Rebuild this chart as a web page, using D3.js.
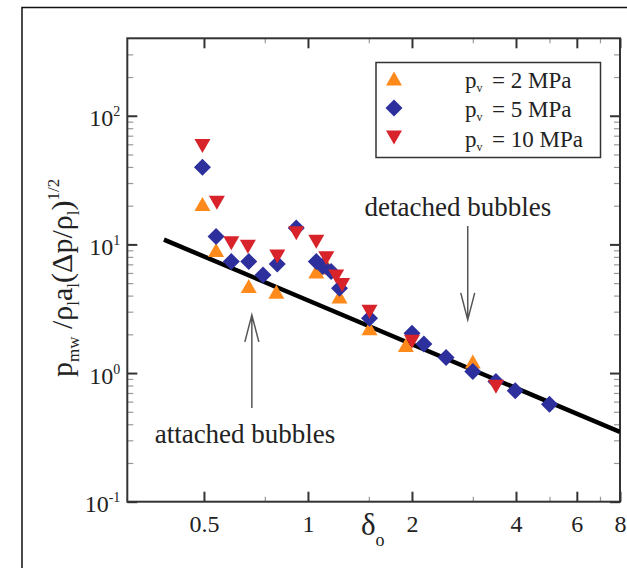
<!DOCTYPE html>
<html>
<head>
<meta charset="utf-8">
<script src="https://cdn.jsdelivr.net/npm/d3@7"></script>
<style>
  body { margin: 0; background: #fff; }
  svg { display: block; font-family: "Liberation Serif", "Times New Roman", serif; }
</style>
</head>
<body>
<script>
const width = 627;
const height = 568;

// series
const delta2 = [0.495, 0.542, 0.674, 0.81, 1.057, 1.14, 1.234, 1.507, 1.92, 3.0];
const value2 = [20.6, 9.06, 4.75, 4.29, 6.15, 6.6, 3.93, 2.23, 1.65, 1.23];

const delta5 = [0.495, 0.542, 0.600, 0.674, 0.741, 0.815, 0.925, 1.057, 1.104, 1.167,
  1.234, 1.507, 2.0, 2.165, 2.51, 3.0, 3.5, 3.98, 5.0];
const value5 = [39.8, 11.5, 7.35, 7.35, 5.79, 7.05, 13.4, 7.35, 6.72, 6.15,
  4.57, 2.67, 2.04, 1.68, 1.32, 1.03, 0.858, 0.730, 0.573];

const delta10 = [0.495, 0.545, 0.600, 0.670, 0.815, 0.925, 1.057, 1.13, 1.207, 1.256, 1.507, 2.0, 3.5];
const value10 = [58.3, 21.1, 10.2, 9.61, 8.04, 12.2, 10.5, 7.81, 5.62, 4.84, 3.0, 1.75, 0.784];

// fitted power-law line (end points)
const fitDelta = [0.383, 8];
const fitValue = [10.9, 0.348];

const seriesNames = ["2 MPa", "5 MPa", "10 MPa"];

// ticks
const xMajor = [0.5, 1, 2, 4, 6, 8];
const xMajorLabels = ["0.5", "1", "2", "4", "6", "8"];
const xMinor = [0.75, 1.5, 3, 5, 7];
const yMajor = [0.1, 1, 10, 100];
const yMajorExp = ["-1", "0", "1", "2"];
const yMinor = [0.2, 0.3, 0.4, 0.5, 0.6, 0.7, 0.8, 0.9,
  2, 3, 4, 5, 6, 7, 8, 9,
  20, 30, 40, 50, 60, 70, 80, 90,
  200, 300];

const svg = d3.select("body")
  .append("svg")
  .attr("width", width)
  .attr("height", height);

// outer figure border (only top/left visible)
svg.append("rect")
  .attr("x", 22).attr("y", 7.5)
  .attr("width", 700).attr("height", 700)
  .attr("fill", "none")
  .attr("stroke", "#111")
  .attr("stroke-width", 1.5);

const plotLeft = 127.3, plotRight = 620, plotTop = 38.3, plotBottom = 501.7;

const x = d3.scaleLog().domain([0.3, 8]).range([plotLeft, plotRight]);
const y = d3.scaleLog().domain([0.1, 400]).range([plotBottom, plotTop]);

const colors = { o: "#ff8a1c", b: "#2c2f9c", r: "#d8232b" };

// axes: ticks point inward on all four sides
function styleAxis(g, major) {
  g.select(".domain").remove();
  g.selectAll(".tick line")
    .attr("stroke", major ? "#333" : "#999")
    .attr("stroke-width", major ? 2 : 1.2);
}

svg.append("g")
  .attr("transform", `translate(0,${plotBottom})`)
  .call(d3.axisBottom(x).tickValues(xMajor)
    .tickFormat((d, i) => xMajorLabels[i])
    .tickSizeInner(-10).tickSizeOuter(0).tickPadding(13))
  .call(g => styleAxis(g, true))
  .call(g => g.selectAll("text")
    .attr("font-size", 24)
    .attr("font-family", "Liberation Serif, Times New Roman, serif")
    .attr("fill", "#222"));

svg.append("g")
  .attr("transform", `translate(0,${plotBottom})`)
  .call(d3.axisBottom(x).tickValues(xMinor).tickFormat("").tickSizeInner(-5).tickSizeOuter(0))
  .call(g => styleAxis(g, false));

svg.append("g")
  .attr("transform", `translate(0,${plotTop})`)
  .call(d3.axisTop(x).tickValues(xMajor).tickFormat("").tickSizeInner(-10).tickSizeOuter(0))
  .call(g => styleAxis(g, true));

svg.append("g")
  .attr("transform", `translate(0,${plotTop})`)
  .call(d3.axisTop(x).tickValues(xMinor).tickFormat("").tickSizeInner(-5).tickSizeOuter(0))
  .call(g => styleAxis(g, false));

svg.append("g")
  .attr("transform", `translate(${plotLeft},0)`)
  .call(d3.axisLeft(y).tickValues(yMajor).tickFormat("").tickSizeInner(-10).tickSizeOuter(0))
  .call(g => styleAxis(g, true));

svg.append("g")
  .attr("transform", `translate(${plotLeft},0)`)
  .call(d3.axisLeft(y).tickValues(yMinor).tickFormat("").tickSizeInner(-6).tickSizeOuter(0))
  .call(g => styleAxis(g, false));

svg.append("g")
  .attr("transform", `translate(${plotRight},0)`)
  .call(d3.axisRight(y).tickValues(yMajor).tickFormat("").tickSizeInner(-10).tickSizeOuter(0))
  .call(g => styleAxis(g, true));

svg.append("g")
  .attr("transform", `translate(${plotRight},0)`)
  .call(d3.axisRight(y).tickValues(yMinor).tickFormat("").tickSizeInner(-6).tickSizeOuter(0))
  .call(g => styleAxis(g, false));

// y tick labels 10^n
const yLabels = svg.append("g")
  .attr("font-size", 24)
  .attr("fill", "#222")
  .attr("text-anchor", "end");

yMajor.forEach((v, i) => {
  const t = yLabels.append("text")
    .attr("x", plotLeft - 7)
    .attr("y", y(v) + 10.5);
  t.append("tspan").text("10");
  t.append("tspan")
    .attr("font-size", 14)
    .attr("dy", -10)
    .text(yMajorExp[i]);
});

// plot frame
svg.append("rect")
  .attr("x", plotLeft).attr("y", plotTop)
  .attr("width", plotRight - plotLeft).attr("height", plotBottom - plotTop)
  .attr("fill", "none")
  .attr("stroke", "#333")
  .attr("stroke-width", 2);

// clip for the fit line
svg.append("clipPath").attr("id", "plot-clip")
  .append("rect")
  .attr("x", plotLeft).attr("y", plotTop)
  .attr("width", plotRight - plotLeft).attr("height", plotBottom - plotTop);

const line = d3.line()
  .x(d => x(d[0]))
  .y(d => y(d[1]));

svg.append("path")
  .datum(fitDelta.map((d, i) => [d, fitValue[i]]))
  .attr("clip-path", "url(#plot-clip)")
  .attr("d", line)
  .attr("fill", "none")
  .attr("stroke", "#000")
  .attr("stroke-width", 4.5);

// markers
const shapes = {
  up: "M0,-7L8,7L-8,7Z",
  diamond: "M0,-8.5L8.5,0L0,8.5L-8.5,0Z",
  down: "M0,7L8,-7L-8,-7Z"
};

function drawSeries(xs, ys, shape, color) {
  svg.append("g")
    .selectAll("path")
    .data(xs.map((d, i) => [d, ys[i]]))
    .enter()
    .append("path")
    .attr("d", shapes[shape])
    .attr("transform", d => `translate(${x(d[0])},${y(d[1])})`)
    .attr("fill", color);
}

drawSeries(delta2, value2, "up", colors.o);
drawSeries(delta5, value5, "diamond", colors.b);
drawSeries(delta10, value10, "down", colors.r);

// annotations (anchored in data space)
const notes = [
  { text: "attached bubbles", tx: 0.36, ty: 0.286, ax: 0.688, from: 0.535, to: 2.83 },
  { text: "detached bubbles", tx: 1.458, ty: 16.5, ax: 2.90, from: 13.9, to: 2.59 }
];

notes.forEach(n => {
  svg.append("text")
    .attr("x", x(n.tx))
    .attr("y", y(n.ty))
    .attr("font-size", 27)
    .attr("fill", "#222")
    .text(n.text);

  const ax = x(n.ax), y0 = y(n.from), y1 = y(n.to);
  const dir = y1 < y0 ? 1 : -1;
  svg.append("path")
    .attr("d", `M${ax},${y0}L${ax},${y1}M${ax - 7},${y1 + dir * 27}L${ax},${y1}L${ax + 7},${y1 + dir * 27}`)
    .attr("fill", "none")
    .attr("stroke", "#555")
    .attr("stroke-width", 1.5);
});

// axis titles
const yTitle = svg.append("text")
  .attr("transform", "translate(72,377) rotate(-90)")
  .attr("font-size", 30)
  .attr("fill", "#222");
yTitle.append("tspan").text("p");
yTitle.append("tspan").attr("font-size", 17).attr("dy", 7).text("mw");
yTitle.append("tspan").attr("dy", -7).text(" /ρ");
yTitle.append("tspan").attr("font-size", 17).attr("dy", 7).text("l");
yTitle.append("tspan").attr("dy", -7).text("a");
yTitle.append("tspan").attr("font-size", 17).attr("dy", 7).text("l");
yTitle.append("tspan").attr("dy", -7).text("(Δp/ρ");
yTitle.append("tspan").attr("font-size", 17).attr("dy", 7).text("l");
yTitle.append("tspan").attr("dy", -7).text(")");
yTitle.append("tspan").attr("font-size", 17).attr("dy", -13).text("1/2");

const xTitle = svg.append("text")
  .attr("x", 361)
  .attr("y", 535)
  .attr("font-size", 31)
  .attr("fill", "#222");
xTitle.append("tspan").text("δ");
xTitle.append("tspan").attr("font-size", 18).attr("dy", 11).text("o");

// legend
const legend = svg.append("g");
legend.append("rect")
  .attr("x", 376).attr("y", 62.5)
  .attr("width", 224.5).attr("height", 95)
  .attr("fill", "#fff")
  .attr("stroke", "#333")
  .attr("stroke-width", 1.5);

const legendShapes = ["up", "diamond", "down"];
const legendColors = [colors.o, colors.b, colors.r];

seriesNames.forEach((name, i) => {
  const cy = 78.5 + i * 29.5;
  legend.append("path")
    .attr("d", shapes[legendShapes[i]])
    .attr("transform", `translate(394,${cy})`)
    .attr("fill", legendColors[i]);
  const t = legend.append("text")
    .attr("x", 465)
    .attr("y", cy + 9)
    .attr("font-size", 23)
    .attr("fill", "#222");
  t.append("tspan").text("p");
  t.append("tspan").attr("font-size", 12).attr("dy", 4).text("v");
  t.append("tspan").attr("x", 492).attr("dy", -4).text("= " + name);
});
</script>
</body>
</html>
